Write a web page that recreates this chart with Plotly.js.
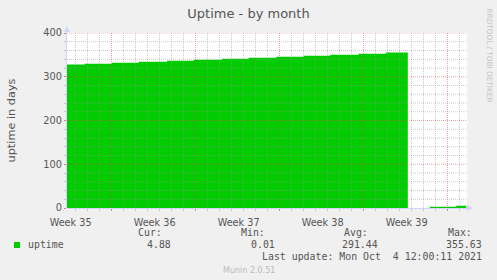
<!DOCTYPE html>
<html><head><meta charset="utf-8">
<script src="https://cdn.plot.ly/plotly-3.0.1.min.js"></script>
<style>html,body{margin:0;padding:0;background:#F0F0F0;overflow:hidden;} #chart{width:497px;height:280px;}</style>
</head><body><div id="chart"></div>
<script>
// ---- data (days since left edge of the month window) ----
const stepStartDay = [0, 1.47, 3.75, 5.97, 8.33, 10.55, 12.92, 15.13, 17.44, 19.72, 21.94, 24.30, 26.58, 28.40, 30.22, 32.44];
const uptimeDays   = [328.0, 329.8, 332.0, 334.3, 336.6, 338.9, 341.2, 343.5, 345.8, 348.1, 350.4, 352.7, 355.63, 0.01, 2.6, 4.88];
const seriesEndDay = 33.28;
const weekLabels   = ['Week 35', 'Week 36', 'Week 37', 'Week 38', 'Week 39'];
const weekLabelDay = [0.3, 7.3, 14.3, 21.3, 28.3];
const weekGridDay  = [3.708, 10.708, 17.708, 24.708, 31.708];
const yTickVals    = [0, 100, 200, 300, 400];
const legendName    = 'uptime';
const legendHeaders = ['Cur:', 'Min:', 'Avg:', 'Max:'];
const legendValues  = ['4.88', '0.01', '291.44', '355.63'];
const lastUpdate    = 'Last update: Mon Oct \u00A04 12:00:11 2021';

// ---- geometry helpers ----
const L = 67, T = 33, PW = 400, PH = 175, B = T + PH;
const XMAX = PW / 12;
const PX = p => (p - L) / PW;
const PY = p => (B - p) / PH;

const GREEN = '#00CC00';
const MINOR = 'rgba(150,150,150,0.5)';
const MAJOR = 'rgba(225,70,70,0.5)';
const AXIS = '#CFD6F8';
const FONT = 'DejaVu Sans, sans-serif';
const MONO = 'DejaVu Sans Mono, monospace';
const TXT = '#555555';

const shapes = [];
function vline(x, color) {
  shapes.push({type: 'line', xref: 'x', yref: 'paper', x0: x, x1: x, y0: 0, y1: 1,
    line: {color: color, width: 1, dash: '1px,1px'}, layer: 'above'});
}
function hline(y, color) {
  shapes.push({type: 'line', xref: 'paper', yref: 'y', x0: 0, x1: 1, y0: y, y1: y,
    line: {color: color, width: 1, dash: '1px,1px'}, layer: 'above'});
}
// minor daily grid, major weekly grid
for (let d = weekGridDay[0] - 3; d < XMAX; d += 1) {
  if (!weekGridDay.some(w => Math.abs(w - d) < 0.01)) vline(d, MINOR);
}
weekGridDay.forEach(w => vline(w, MAJOR));
for (let v = 20; v <= 400; v += 20) {
  if (v % 100 !== 0) hline(v, MINOR);
}
yTickVals.filter(v => v > 0).forEach(v => hline(v, MAJOR));

// axis arrows
shapes.push({type: 'path', xref: 'paper', yref: 'paper', layer: 'above',
  path: `M${PX(64)},${PY(32)} L${PX(70)},${PY(32)} L${PX(67)},${PY(26)} Z`,
  fillcolor: AXIS, line: {width: 0}});
shapes.push({type: 'line', xref: 'paper', yref: 'paper', layer: 'above',
  x0: PX(66.5), x1: PX(66.5), y0: PY(208), y1: PY(30), line: {color: AXIS, width: 1}});
shapes.push({type: 'path', xref: 'paper', yref: 'paper', layer: 'above',
  path: `M${PX(467)},${PY(205)} L${PX(467)},${PY(211)} L${PX(473)},${PY(208)} Z`,
  fillcolor: AXIS, line: {width: 0}});
// legend swatch
shapes.push({type: 'rect', xref: 'paper', yref: 'paper', layer: 'above',
  x0: PX(14), x1: PX(20), y0: PY(248), y1: PY(242), fillcolor: GREEN, line: {width: 0}});

const annotations = [];
function label(text, px, py, opts) {
  annotations.push(Object.assign({text: text, xref: 'paper', yref: 'paper', x: PX(px), y: PY(py),
    showarrow: false, xanchor: 'left', yanchor: 'middle', borderpad: 0,
    font: {family: MONO, size: 9.9, color: TXT}}, opts || {}));
}
const headerX = [136.7, 240, 343.3, 446.7];
const valueRight = [172, 276, 379.3, 482.8];
legendHeaders.forEach((h, i) => label(h, headerX[i], 232.5));
label(legendName, 26.5, 244.5);
legendValues.forEach((v, i) => label(v, valueRight[i], 244.5, {xanchor: 'right'}));
label(lastUpdate, 482.8, 256, {xanchor: 'right'});
label('Munin 2.0.51', 248.5, 270, {xanchor: 'center', font: {family: FONT, size: 8, color: '#BBBBBB'}});
label('RRDTOOL / TOBI OETIKER', 489, 55.5, {xanchor: 'center', textangle: 90,
  font: {family: FONT, size: 7.3, color: '#C4C4C4'}});

const trace = {
  type: 'scatter', mode: 'lines',
  x: stepStartDay.concat([seriesEndDay]),
  y: uptimeDays.concat([uptimeDays[uptimeDays.length - 1]]),
  line: {shape: 'hv', width: 0, color: GREEN},
  fill: 'tozeroy', fillcolor: GREEN,
  hoverinfo: 'skip', showlegend: false
};

const layout = {
  width: 497, height: 280,
  paper_bgcolor: '#F0F0F0', plot_bgcolor: '#FFFFFF',
  margin: {l: L, r: 497 - L - PW, t: T, b: 280 - B, pad: 0},
  showlegend: false,
  title: {text: 'Uptime - by month', xref: 'container', x: 0.5, xanchor: 'center',
    yref: 'container', y: 1 - 13.5 / 280, yanchor: 'middle',
    font: {family: FONT, size: 13, color: TXT}},
  xaxis: {
    range: [0, XMAX], fixedrange: true, showgrid: false, zeroline: false,
    tickmode: 'array', tickvals: weekGridDay, showticklabels: false,
    ticks: 'outside', ticklen: 2, tickcolor: MAJOR, tickwidth: 1,
    minor: {tickmode: 'linear', tick0: weekGridDay[0] - 3, dtick: 1, ticks: 'outside', ticklen: 2, tickcolor: MINOR, showgrid: false},
    showline: true, linecolor: AXIS, linewidth: 1, layer: 'above traces'
  },
  xaxis2: {
    overlaying: 'x', anchor: 'y', side: 'bottom', range: [0, XMAX], fixedrange: true,
    showgrid: false, zeroline: false, showline: false,
    ticks: 'outside', ticklen: 5, tickcolor: 'rgba(0,0,0,0)',
    tickmode: 'array', tickvals: weekLabelDay, ticktext: weekLabels,
    tickfont: {family: FONT, size: 9.7, color: TXT}
  },
  yaxis: {
    range: [0, 400], fixedrange: true, showgrid: false, zeroline: false,
    tickmode: 'array', tickvals: yTickVals, ticks: 'outside', ticklen: 2, tickcolor: MAJOR,
    minor: {tickmode: 'linear', tick0: 0, dtick: 20, ticks: 'outside', ticklen: 2, tickcolor: MINOR, showgrid: false},
    tickfont: {family: FONT, size: 9.8, color: TXT},
    showline: false, layer: 'above traces',
    title: {text: 'uptime in days', font: {family: FONT, size: 11.3, color: TXT}, standoff: 25}
  },
  shapes: shapes,
  annotations: annotations
};

const trace2 = {type: 'scatter', x: [0], y: [0], xaxis: 'x2', yaxis: 'y', mode: 'none', hoverinfo: 'skip', showlegend: false};

Plotly.newPlot('chart', [trace, trace2], layout, {staticPlot: true, displayModeBar: false});
</script></body></html>
